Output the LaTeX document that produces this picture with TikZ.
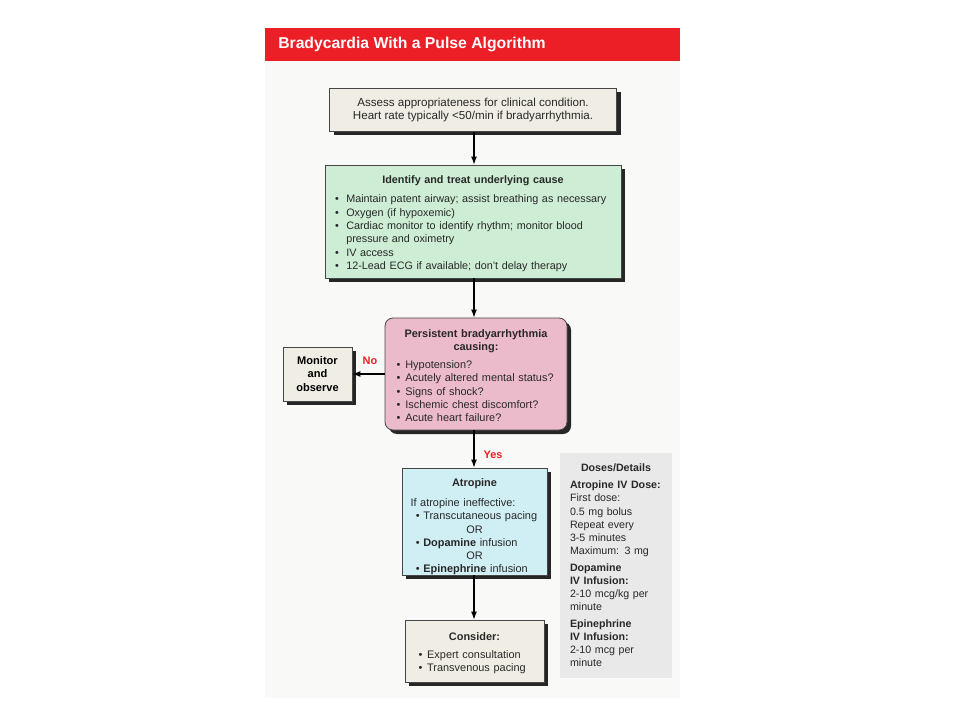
\documentclass[tikz,border=0pt]{standalone}
\usepackage{fontspec}
\setmainfont{Liberation Sans}
\usetikzlibrary{shadows,arrows.meta}
\definecolor{hdrred}{RGB}{236,30,38}
\definecolor{cardbg}{RGB}{249,249,247}
\definecolor{beige}{RGB}{240,238,228}
\definecolor{mint}{RGB}{205,237,212}
\definecolor{rose}{RGB}{236,187,203}
\definecolor{aqua}{RGB}{208,239,245}
\definecolor{dosegray}{RGB}{233,233,233}
\definecolor{bordergray}{RGB}{70,70,70}
\definecolor{txt}{RGB}{40,40,40}
\newcommand{\bitem}[2][8pt]{\par\noindent\hangindent=#1\hangafter=1\makebox[#1][l]{\textbullet}#2}
\tikzset{
  box/.style={draw=bordergray, line width=0.6pt, inner sep=0pt, text=txt,
    drop shadow={shadow xshift=3pt, shadow yshift=-3pt, fill=black!85, opacity=1}},
  bodyfont/.style={font={\fontsize{8.2}{9.9}\selectfont\parindent=0pt\hyphenpenalty=10000}},
  arr/.style={line width=0.9pt, -{Latex[length=6pt,width=4.5pt]}},
  lbl/.style={text=hdrred, font={\fontsize{8.2}{9.9}\selectfont\bfseries}},
}
\begin{document}
\begin{tikzpicture}[x=0.75pt,y=-0.75pt]
\useasboundingbox (0,0) rectangle (960,720);
\fill[cardbg] (265,28) rectangle (680,698);
\node[fill=hdrred, anchor=north west, minimum width=311.25pt, minimum height=24.75pt, inner sep=0pt] (hdr) at (265,28) {};
\node[anchor=west, text=white, inner sep=0pt, font={\fontsize{11.8}{14}\selectfont\bfseries}] (title) at (278,44.5) {Bradycardia With a Pulse Algorithm};

\node[box, fill=beige, minimum width=215.25pt, minimum height=32.25pt, align=center,
  font={\fontsize{8.7}{10.2}\selectfont}] (b1) at (473,110)
  {Assess appropriateness for clinical condition.\\Heart rate typically <50/min if bradyarrhythmia.};

\node[box, fill=mint, font={\fontsize{8.1}{10}\selectfont\parindent=0pt\hyphenpenalty=10000}, minimum width=222pt, minimum height=84.75pt, text width=207pt, align=left] (b2) at (473,221.5)
  {{\centering\bfseries\rule{0pt}{9pt}Identify and treat underlying cause\par}\vspace{4.5pt}
   \bitem[8.5pt]{Maintain patent airway; assist breathing as necessary}
   \bitem[8.5pt]{Oxygen (if hypoxemic)}
   \bitem[8.5pt]{Cardiac monitor to identify rhythm; monitor blood\newline pressure and oximetry}
   \bitem[8.5pt]{IV access}
   \bitem[8.5pt]{12-Lead ECG if available; don't delay therapy}};

\node[box, fill=rose, rounded corners=6pt, bodyfont, minimum width=136.5pt, minimum height=84pt, text width=119pt, align=left] (b3) at (476,374)
  {{\centering\bfseries\rule{0pt}{8pt}Persistent bradyarrhythmia\\causing:\par}\vspace{4pt}
   \bitem[6.5pt]{Hypotension?}
   \bitem[6.5pt]{Acutely altered mental status?}
   \bitem[6.5pt]{Signs of shock?}
   \bitem[6.5pt]{Ischemic chest discomfort?}
   \bitem[6.5pt]{Acute heart failure?}};

\node[box, fill=beige, minimum width=51.75pt, minimum height=40.5pt, align=center,
  font={\fontsize{8.3}{9.8}\selectfont\bfseries}, text=black] (mon) at (317.5,374)
  {Monitor\\and\\observe};

\node[box, fill=aqua, bodyfont, minimum width=108.75pt, minimum height=80.25pt, text width=96pt, align=left] (atr) at (474.5,521.5)
  {{\centering\bfseries\rule{0pt}{14pt}Atropine\par}\vspace{5pt}
   If atropine ineffective:\par
   \hspace*{4pt}\textbullet\ Transcutaneous pacing\par
   {\centering OR\par}
   \hspace*{4pt}\textbullet\ \textbf{Dopamine} infusion\par
   {\centering OR\par}
   \hspace*{4pt}\textbullet\ \textbf{Epinephrine} infusion};

\node[box, fill=beige, bodyfont, minimum width=104.25pt, minimum height=46.5pt, text width=84pt, align=left] (con) at (474.5,651)
  {{\centering\bfseries\rule{0pt}{9pt}Consider:\par}\vspace{4pt}
   \bitem[6.5pt]{Expert consultation}
   \bitem[6.5pt]{Transvenous pacing}};

\node[fill=dosegray, inner sep=0pt, text=txt, font={\fontsize{8}{9.8}\selectfont\parindent=0pt}, minimum width=84pt, minimum height=168.75pt, text width=69pt, align=left] (dos) at (616,565.5)
  {{\centering\bfseries Doses/Details\par}\vspace{3pt}
   {\bfseries Atropine IV Dose:}\\
   First dose:\\0.5 mg bolus\\Repeat every\\3-5 minutes\\Maximum: 3 mg\par\vspace{3pt}
   {\bfseries Dopamine\\IV Infusion:}\\2-10 mcg/kg per\\minute\par\vspace{3pt}
   {\bfseries Epinephrine\\IV Infusion:}\\2-10 mcg per\\minute};

\draw[arr] (b1.south -| 474,0) -- (b2.north -| 474,0);
\draw[arr] (b2.south -| 474,0) -- (b3.north -| 474,0);
\draw[arr] (b3.west) -- (mon.east);
\draw[arr] (b3.south -| 474,0) -- (atr.north -| 474,0);
\draw[arr] (atr.south -| 474,0) -- (con.north -| 474,0);
\node[lbl] (no) at (370,361) {No};
\node[lbl] (yes) at (493,455) {Yes};
\end{tikzpicture}
\end{document}
